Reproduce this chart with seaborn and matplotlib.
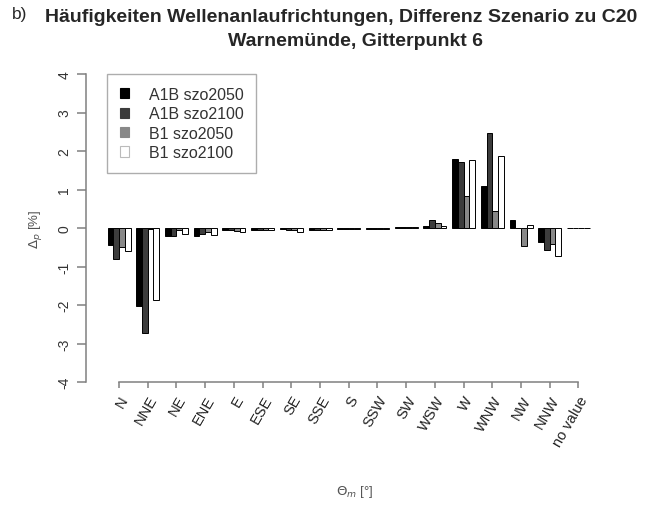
import matplotlib
matplotlib.use("Agg")
import matplotlib.pyplot as plt
import seaborn as sns
import pandas as pd

directions = ["N", "NNE", "NE", "ENE", "E", "ESE", "SE", "SSE", "S", "SSW",
              "SW", "WSW", "W", "WNW", "NW", "NNW", "no value"]
scenarios = ["A1B szo2050", "A1B szo2100", "B1 szo2050", "B1 szo2100"]

a1b_2050 = [-0.45, -2.03, -0.20, -0.20, -0.05, -0.05, -0.03, -0.05, -0.02, -0.03,
            0.02, 0.05, 1.78, 1.10, 0.22, -0.36, 0.01]
a1b_2100 = [-0.80, -2.72, -0.22, -0.15, -0.05, -0.05, -0.05, -0.05, -0.02, -0.03,
            0.03, 0.20, 1.71, 2.47, 0.00, -0.56, 0.01]
b1_2050 = [-0.50, -0.02, -0.05, -0.10, -0.08, -0.05, -0.05, -0.05, -0.02, -0.02,
           0.02, 0.14, 0.84, 0.45, -0.48, -0.42, 0.01]
b1_2100 = [-0.60, -1.88, -0.15, -0.18, -0.10, -0.05, -0.10, -0.05, -0.02, -0.03,
           0.02, 0.05, 1.77, 1.86, 0.08, -0.74, 0.01]

colors = ["#000000", "#3c3c3c", "#888888", "#ffffff"]

rows = []
for name, vals in zip(scenarios, [a1b_2050, a1b_2100, b1_2050, b1_2100]):
    for d, v in zip(directions, vals):
        rows.append({"dir": d, "scenario": name, "value": v})
df = pd.DataFrame(rows)

sns.set_style("white")
plt.rcParams["font.family"] = ["Liberation Sans", "DejaVu Sans"]

fig = plt.figure(figsize=(6.58, 5.06), dpi=100)
ax = fig.add_axes([86 / 658, 1 - 383 / 506, (600 - 86) / 658, (383 - 75) / 506])

sns.barplot(data=df, x="dir", y="value", hue="scenario", order=directions,
            hue_order=scenarios, palette=colors, width=0.8, edgecolor="black",
            linewidth=0.7, ax=ax, legend=False, saturation=1)

ax.set_ylim(-4, 4)
ax.set_xlim(-1.15, 16.75)
for s in ["top", "right"]:
    ax.spines[s].set_visible(False)
axis_col = "#808080"
ax.spines["left"].set_bounds(-4, 4)
ax.spines["bottom"].set_bounds(0, 16)
for s in ["left", "bottom"]:
    ax.spines[s].set_color(axis_col)
    ax.spines[s].set_linewidth(1.1)

ax.set_yticks(range(-4, 5))
ax.set_yticklabels([str(v) for v in range(-4, 5)], rotation=90, va="center",
                   fontsize=10, color="#333333")
ax.tick_params(axis="y", length=6.5, color=axis_col, width=1.1, pad=4, left=True)
ax.set_xticks(range(len(directions)))
ax.set_xticklabels(directions, rotation=60, ha="right", rotation_mode="anchor",
                   fontsize=10.5, color="#222222")
ax.tick_params(axis="x", length=4, color=axis_col, width=1.1, pad=4, bottom=True)

ax.set_xlabel(r"$\Theta_m$ [°]", fontsize=9.5, color="#555555")
ax.xaxis.set_label_coords((355 - 86) / 514, -(484 - 383) / 308)
ax.set_ylabel(r"$\Delta_p$ [%]", fontsize=9.5, color="#555555")
ax.yaxis.set_label_coords(-(86 - 44) / 514, 0.5)

handles = [plt.Rectangle((0, 0), 1, 1, facecolor=c,
                         edgecolor="#bbbbbb" if c == "#ffffff" else c,
                         linewidth=0.8) for c in colors]
ax.legend(handles, scenarios, loc="upper left",
          bbox_to_anchor=(107 / 658, 1 - 75 / 506), bbox_transform=fig.transFigure,
          borderaxespad=0, frameon=True, fancybox=False, edgecolor="#999999",
          fontsize=11.5, handlelength=0.6, handleheight=0.6, handletextpad=1.2,
          labelspacing=0.28, borderpad=0.8, labelcolor="#333333")

fig.text(12 / 658, 1 - 15 / 506, "b)", fontsize=12.5, va="center", ha="left")
fig.text(341 / 658, 1 - 17 / 506,
         "Häufigkeiten Wellenanlaufrichtungen, Differenz Szenario zu C20",
         fontsize=14, fontweight="bold", va="center", ha="center")
fig.text(356 / 658, 1 - 42 / 506, "Warnemünde, Gitterpunkt 6",
         fontsize=14, fontweight="bold", va="center", ha="center")

fig.savefig("out.png", dpi=100)
